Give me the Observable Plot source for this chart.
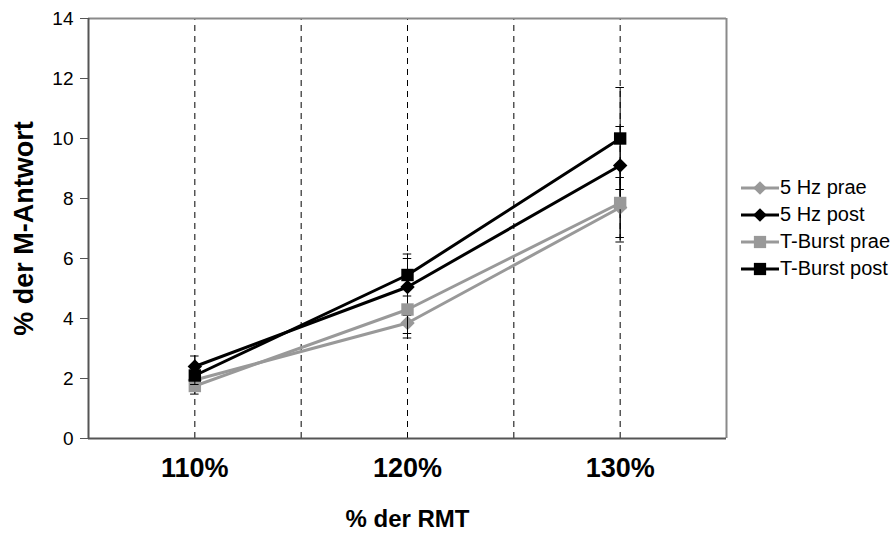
<!DOCTYPE html>
<html><head><meta charset="utf-8">
<script src="https://cdn.jsdelivr.net/npm/d3@7"></script>
<script src="https://cdn.jsdelivr.net/npm/@observablehq/plot@0.6"></script>
<style>
body{margin:0;background:#fff;font-family:"Liberation Sans",Arial,sans-serif;}
#wrap{position:relative;width:893px;height:534px;}
#legend{position:absolute;left:741px;top:174px;font-size:20px;color:#000;}
.item{display:flex;align-items:center;height:27px;white-space:nowrap;}
.item svg{display:block;margin-right:1px;}
</style></head><body><div id="wrap"></div>
<script>
const categories = [110, 120, 130];
const gridLines = [110, 115, 120, 125, 130];
const yTicks = [0, 2, 4, 6, 8, 10, 12, 14];
const series = ["5 Hz prae", "5 Hz post", "T-Burst prae", "T-Burst post"];
const colors = ["#999999", "#000000", "#999999", "#000000"];
const symbols = ["diamond2", "diamond2", "square", "square"];
const v5prae = [1.95, 3.85, 7.7];
const v5post = [2.4, 5.05, 9.1];
const vTBprae = [1.75, 4.3, 7.85];
const vTBpost = [2.1, 5.45, 10.0];
const e5prae = [0.3, 0.5, 1.0];
const e5post = [0.35, 0.95, 1.3];
const eTBprae = [0.27, 0.8, 1.3];
const eTBpost = [0.3, 0.7, 1.7];
const values = [v5prae, v5post, vTBprae, vTBpost];
const errors = [e5prae, e5post, eTBprae, eTBpost];

const rows = [];
series.forEach((s, i) => categories.forEach((c, j) =>
  rows.push({series: s, idx: i, x: c, y: values[i][j], e: errors[i][j]})));

const marks = [
  Plot.ruleX(gridLines, {y1: 0, y2: 14, stroke: "#000", strokeWidth: 1, strokeDasharray: "6,5"}),
  Plot.ruleY([14], {stroke: "#8a8a8a", strokeWidth: 2}),
  Plot.ruleX([135], {stroke: "#8a8a8a", strokeWidth: 2}),
];
series.forEach((s, i) => {
  const d = rows.filter(r => r.idx === i);
  marks.push(
    Plot.line(d, {x: "x", y: "y", stroke: colors[i], strokeWidth: 3}),
    Plot.ruleX(d, {x: "x", y1: r => r.y - r.e, y2: r => r.y + r.e, stroke: "#000", strokeWidth: 1}),
    Plot.ruleY(d, {y: r => r.y + r.e, x1: r => r.x - 0.2, x2: r => r.x + 0.2, stroke: "#000", strokeWidth: 1}),
    Plot.ruleY(d, {y: r => r.y - r.e, x1: r => r.x - 0.2, x2: r => r.x + 0.2, stroke: "#000", strokeWidth: 1}),
    Plot.dot(d, {x: "x", y: "y", symbol: symbols[i], r: symbols[i] === "square" ? 7 : 6.5, fill: colors[i], stroke: "none"})
  );
});
marks.push(
  Plot.ruleX([105], {stroke: "#555", strokeWidth: 2}),
  Plot.ruleY([0], {stroke: "#555", strokeWidth: 2}),
  Plot.axisY({ticks: yTicks, tickSize: 8, tickPadding: 7, fontSize: 19, stroke: "#555", fill: "#000", label: null}),
  Plot.axisX({ticks: categories, tickFormat: d => d + "%", tickSize: 0, tickPadding: 19, fontSize: 27, fontWeight: "bold", fill: "#000", label: null}),
  Plot.text(["% der RMT"], {text: d => d, frameAnchor: "bottom", dy: 88, fontSize: 24, fontWeight: "bold", fill: "#000"}),
  Plot.text(["% der M-Antwort"], {text: d => d, frameAnchor: "left", textAnchor: "middle", dx: -64, rotate: -90, fontSize: 27, fontWeight: "bold", fill: "#000"})
);

const chart = Plot.plot({
  width: 893, height: 534,
  marginLeft: 88, marginRight: 167, marginTop: 18, marginBottom: 96,
  x: {type: "linear", domain: [105, 135], axis: null},
  y: {domain: [0, 14], axis: null},
  style: {fontFamily: "Liberation Sans, Arial, sans-serif", background: "#fff", color: "#000"},
  marks
});
const wrap = document.getElementById("wrap");
wrap.appendChild(chart);

const legend = d3.select(wrap).append("div").attr("id", "legend");
series.forEach((s, i) => {
  const item = legend.append("div").attr("class", "item");
  const svg = item.append("svg").attr("width", 38).attr("height", 26);
  svg.append("line").attr("x1", 0).attr("x2", 38).attr("y1", 13).attr("y2", 13)
    .attr("stroke", colors[i]).attr("stroke-width", 3);
  const sym = symbols[i] === "square" ? d3.symbolSquare : d3.symbolDiamond2;
  const size = symbols[i] === "square" ? 150 : 120;
  svg.append("path").attr("transform", "translate(19,13)")
    .attr("d", d3.symbol(sym, size)()).attr("fill", colors[i]);
  item.append("span").text(s);
});
</script>
</body></html>
